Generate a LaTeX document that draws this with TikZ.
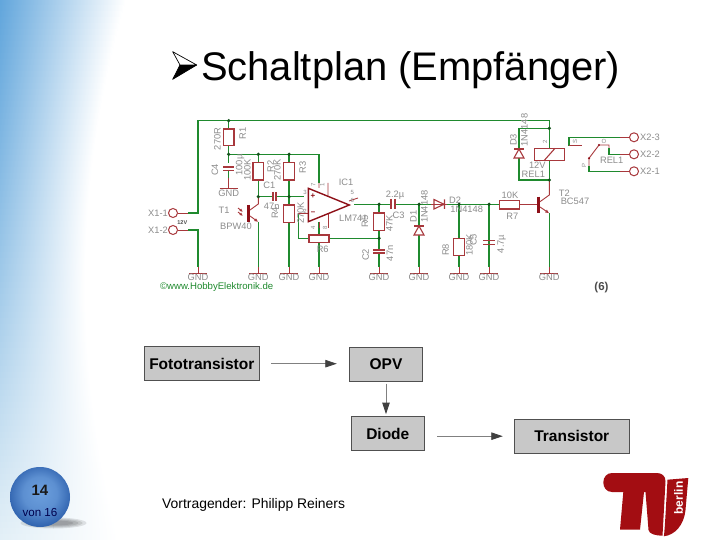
\documentclass[tikz,border=0pt]{standalone}
\usepackage{fontspec}
\setmainfont{Liberation Sans}
\usetikzlibrary{arrows.meta}
\definecolor{wiregreen}{HTML}{1F8A2E}
\definecolor{partred}{HTML}{A8383C}
\definecolor{darkred}{HTML}{8E1018}
\definecolor{lblgray}{HTML}{8C8C8C}
\definecolor{bgtop}{HTML}{62A6DC}
\definecolor{bgbot}{HTML}{E4F0F7}
\definecolor{boxgray}{HTML}{C8C8C8}
\definecolor{boxedge}{HTML}{505050}
\definecolor{tured}{HTML}{A30D12}
\definecolor{ballin}{HTML}{6C9FDD}
\definecolor{ballout}{HTML}{2F62AE}
\pgfdeclareradialshading{ballshade}{\pgfpoint{0bp}{4bp}}{color(0bp)=(ballin); color(14bp)=(ballin!75!ballout); color(27bp)=(ballout); color(50bp)=(ballout)}
\tikzset{
  wire/.style={draw=wiregreen,line width=1.5pt},
  pin/.style={draw=partred,line width=.9pt},
  part/.style={draw=partred,line width=1.1pt,fill=white},
  dot/.style={circle,fill=wiregreen!60!black,inner sep=0pt,minimum size=3.6pt},
  lbl/.style={text=lblgray,inner sep=0pt,font=\fontsize{9.3}{10}\selectfont},
  tiny/.style={text=lblgray,inner sep=0pt,font=\fontsize{6}{6}\selectfont},
  vert/.style={rotate=90},
  flowbox/.style={draw=boxedge,fill=boxgray,line width=1pt,inner sep=0pt,font=\bfseries\fontsize{15.5}{16}\selectfont},
  flow/.style={draw=gray,line width=.8pt,-{Triangle[length=11.5pt,width=7.5pt,color=black!75]}},
  term/.style={circle,draw=partred,line width=1pt,fill=white,minimum size=9pt,inner sep=0pt}
}
\newcommand{\grnd}[2]{%
  \draw[wire] (#1,#2) -- (#1,267);
  \draw[pin] (#1,267) -- (#1,273) (#1-9,273) -- (#1+9,273);
  \node[lbl] (g#1) at (#1,277.6) {GND};}
\newcommand{\vres}[3]{\draw[part] (#1-5.3,#2) rectangle (#1+5.3,#3);}
\begin{document}
\begin{tikzpicture}[x=1pt,y=-1pt]
\useasboundingbox (0,0) rectangle (720,540);
\fill[white] (0,0) rectangle (720,540);
% background band
\foreach \yy in {0,6,...,534}{
  \pgfmathsetmacro{\ww}{85+40*((\yy-280)/280)^2}
  \pgfmathsetmacro{\pp}{100-100*(\yy/540)^1.1}
  \shade[left color=bgtop!\pp!bgbot,right color=white,draw=none]
    (0,\yy) rectangle (\ww,\yy+7);
}
% title
\fill[black] (196.7,65) -- (172.7,79.3) -- (180,65) -- cycle;
\draw[black,line width=.7pt,fill=white,line join=round] (196.7,65) -- (172.7,51.7) -- (180,65) -- cycle;
\draw[black,line width=.7pt,line join=round] (196.7,65) -- (172.7,79.3) -- (180,65);
\node[anchor=base west,inner sep=0pt,font=\fontsize{39.9}{41}\selectfont] (title) at (201,81) {Schaltplan (Empfänger)};
% main wires
\draw[wire] (188,213) -- (198,213) -- (198,120.7) -- (549.3,120.7) -- (549.3,180);
\draw[wire] (188,230) -- (198,230) -- (198,267);
\draw[wire] (228.7,120.7) -- (228.7,129) (228.7,145.7) -- (228.7,154.3) -- (319,154.3) -- (319,183);
\draw[wire] (228.7,154.3) -- (228.7,163);
\draw[wire] (258.3,154.3) -- (258.3,162) (289,154.3) -- (289,162);
\draw[wire] (258.3,180) -- (258.3,196.7) -- (273,196.7) (275,196.7) -- (304,196.7);
\draw[wire] (289,180) -- (289,205);
\draw[wire] (298.3,213.3) -- (298.3,238.3) -- (309,238.3) (329,238.3) -- (379,238.3);
\draw[wire] (354,204.3) -- (391,204.3) (395,204.3) -- (433,204.3);
\draw[wire] (379,204.3) -- (379,213) (379,230.7) -- (379,250);
\draw[wire] (445,204.3) -- (499.3,204.3);
\draw[wire] (459,204.3) -- (459,238);
\draw[wire] (519,128.3) -- (549.3,128.3) (519,128.3) -- (519,180) -- (549.3,180);
\draw[wire] (620,137.3) -- (569,137.3) -- (569,145.7);
\draw[wire] (620,171.3) -- (589,171.3) -- (589,166);
\draw[wire] (620,154.3) -- (609,154.3) -- (609,148);
% grounds
\grnd{198}{230}
\grnd{258.3}{222}
\grnd{289}{222}
\grnd{319}{222}
\grnd{379}{253}
\grnd{419}{204.3}
\grnd{459}{255.7}
\grnd{489}{204.3}
\grnd{549.3}{213.3}
\draw[wire] (228.7,170) -- (228.7,178);
\draw[pin] (228.7,178) -- (228.7,188) (219.7,188) -- (237.7,188);
\node[lbl] (gc4) at (228.7,193.5) {GND};
% parts
\vres{228.7}{129}{145.7}
\vres{258.3}{162.3}{180}
\vres{289}{162.3}{180}
\vres{289}{205}{222.3}
\vres{379}{213}{230.7}
\vres{459}{238.3}{255.7}
\draw[part] (309,235) rectangle (329,242.7);
\draw[part] (499.3,200.7) rectangle (519.3,209);
\draw[pin] (519.3,204.3) -- (538,204.3);
% capacitors
\draw[part,fill=none] (223,167) -- (234,167) (223,170.5) -- (234,170.5);
\draw[part,fill=none] (273,192) -- (273,201) (276,192) -- (276,201);
\draw[part,fill=none] (373,250) -- (385,250) (373,253) -- (385,253);
\draw[part,fill=none] (483,240.5) -- (495,240.5) (483,244.5) -- (495,244.5);
\draw[part,fill=none] (391,199) -- (391,209) (395,199) -- (395,209);
% opamp
\draw[pin] (319,183) -- (319,188) (328,183) -- (328,196) (349,201) -- (358,198);
\draw[pin] (319,222) -- (319,228) (328,212) -- (328,228);
\draw[pin] (298.3,213.3) -- (308,213.3);
\draw[draw=darkred,line width=1.4pt,fill=white] (308.3,188.3) -- (308.3,221.7) -- (349.3,205) -- cycle;
\node[inner sep=0pt,text=darkred,font=\bfseries\fontsize{8}{8}\selectfont] (plus) at (313,196.5) {+};
\node[inner sep=0pt,text=darkred,font=\bfseries\fontsize{8}{8}\selectfont] (minus) at (313,213.5) {–};
% phototransistor
\draw[darkred,line width=2.4pt] (248.3,205) -- (248.3,221.7);
\draw[pin] (250,210) -- (258.3,204) -- (258.3,196.7);
\draw[pin,-{Latex[length=4pt,width=3.5pt]}] (250,216) -- (258.3,222);
\draw[pin,{Latex[length=3.5pt,width=3pt]}-] (243,212) -- (238,208);
\draw[pin,{Latex[length=3.5pt,width=3pt]}-] (243,216) -- (238,212);
% diodes
\draw[pin] (431,204.3) -- (447,204.3);
\draw[part,fill=none] (434,199.5) -- (434,209) -- (444,204.3) -- cycle (444.5,199.5) -- (444.5,209);
\draw[part] (414,235) -- (424,235) -- (419,226) -- cycle;
\draw[part,fill=none] (414,226) -- (424,226);
\draw[part] (514,158) -- (524,158) -- (519,149) -- cycle;
\draw[part,fill=none] (514,149) -- (524,149);
% T2
\draw[darkred,line width=2.4pt] (538.3,196.7) -- (538.3,213.3);
\draw[pin] (540,201.7) -- (549.3,195) -- (549.3,180);
\draw[pin,-{Latex[length=4pt,width=3.5pt]}] (540,207) -- (549.3,213.3);
% relay
\draw[part] (534.3,148.3) rectangle (564.3,160.7);
\draw[part,fill=none] (544,160.7) -- (555,148.3);
% contact
\draw[pin] (569,145.7) -- (582,145.7);
\draw[pin] (589,166) -- (589,158.3) -- (599,145) -- (609,145) -- (609,148);
\fill[darkred] (589,158.3) circle (1.2pt) (599,145) circle (1.2pt);
% terminals
\node[term] (x11) at (173,213) {};
\node[term] (x12) at (173,230) {};
\node[term] (x23) at (634,137.3) {};
\node[term] (x22) at (634,154.3) {};
\node[term] (x21) at (634,171.3) {};
\draw[pin] (x11) -- (188,213) (x12) -- (188,230) (x23) -- (620,137.3) (x22) -- (620,154.3) (x21) -- (620,171.3);
% junctions
\foreach \jx/\jy/\jn in {228.7/120.7/a,228.7/154.3/b,258.3/154.3/c,289/154.3/d,258.3/196.7/e,289/196.7/f,379/204.3/h,379/238.3/i,419/204.3/j,459/204.3/k,489/204.3/l,549.3/128.3/m,549.3/180/n}{\node[dot] (j\jn) at (\jx,\jy) {};}
% labels
\node[lbl,anchor=east] (lx11) at (168,213) {X1-1};
\node[lbl,anchor=east] (lx12) at (168,230) {X1-2};
\node[inner sep=0pt,font=\bfseries\fontsize{5.5}{6}\selectfont,text=black!70] (l12v) at (182.3,222.7) {12V};
\node[lbl,vert] (l270r) at (217.3,139) {270R};
\node[lbl,vert] (lr1) at (242.7,133.3) {R1};
\node[lbl,vert] (lc4) at (215,170) {C4};
\node[lbl,vert] (l100u) at (240,165) {100µ};
\node[lbl,vert] (l100k) at (247.3,170) {100K};
\node[lbl,vert] (lr2) at (270.7,166.7) {R2};
\node[lbl,vert] (l270k) at (277.3,170) {270K};
\node[lbl,vert] (lr3) at (302.7,167.7) {R3};
\node[lbl] (lc1) at (269.3,185) {C1};
\node[lbl] (l47n) at (271.7,206) {47n};
\node[lbl] (lt1) at (224,210) {T1};
\node[lbl] (lbpw) at (236,226.7) {BPW40};
\node[lbl,vert] (lr4) at (275,213) {R4};
\node[lbl,vert] (l270kb) at (300.7,213) {270K};
\node[lbl] (lic1) at (346,182.7) {IC1};
\node[lbl] (llm) at (353.3,218.3) {LM741};
\node[lbl,vert] (lr5) at (365,221.7) {R5};
\node[lbl,vert] (l47k) at (389.3,223.3) {47K};
\node[lbl] (lr6) at (322.7,249.3) {R6};
\node[lbl,vert] (lc2) at (365.7,255) {C2};
\node[lbl,vert] (l47nb) at (390,253.3) {47n};
\node[inner sep=0pt,text=wiregreen,font=\fontsize{9.6}{10}\selectfont] (lcopy) at (216.7,287.2) {©www.HobbyElektronik.de};
\node[lbl] (l22u) at (395,195.7) {2.2µ};
\node[lbl] (lc3) at (398.5,215.7) {C3};
\node[lbl,vert] (ld1) at (413.3,216.7) {D1};
\node[lbl,vert] (l1n1) at (424.3,206.7) {1N4148};
\node[lbl] (ld2) at (455,200.5) {D2};
\node[lbl] (l1n2) at (466.7,209.5) {1N4148};
\node[lbl] (l10k) at (510,195) {10K};
\node[lbl] (lr7) at (512.3,216.3) {R7};
\node[lbl] (lt2) at (564.3,193.3) {T2};
\node[lbl] (lbc) at (575,201.7) {BC547};
\node[lbl,vert] (lr8) at (445.7,250) {R8};
\node[lbl,vert] (l180k) at (469.3,245) {180K};
\node[lbl,vert] (lc5) at (473.5,240) {C5};
\node[lbl,vert] (l47u) at (501.7,244) {4.7µ};
\node[lbl,vert] (ld3) at (513.3,140) {D3};
\node[lbl,vert] (l1n3) at (524.3,130) {1N4148};
\node[tiny,vert] (lp2) at (545,142.3) {2};
\node[lbl] (l12vb) at (537.3,165.5) {12V};
\node[lbl] (lrel) at (533.3,174.5) {REL1};
\node[tiny,vert] (ls) at (575,141.7) {S};
\node[tiny] (lo) at (604,141.7) {O};
\node[tiny,vert] (lpp) at (584,165.7) {P};
\node[lbl] (lrelb) at (611.7,160) {REL1};
\node[lbl,anchor=west] (lx23) at (640,137.3) {X2-3};
\node[lbl,anchor=west] (lx22) at (640,154.3) {X2-2};
\node[lbl,anchor=west] (lx21) at (640,171.3) {X2-1};
\node[tiny,vert] (p7) at (313.3,185) {7};
\node[tiny,vert] (p1) at (322.3,185) {1};
\node[tiny] (p3) at (305,192) {3};
\node[tiny] (p5) at (352.3,192.3) {5};
\node[tiny] (p6) at (352.3,200.7) {6};
\node[tiny] (p2) at (305,211) {2};
\node[tiny,vert] (p4) at (313,228) {4};
\node[tiny,vert] (p8) at (325,228) {8};
\node[inner sep=0pt,text=black!70,font=\bfseries\fontsize{11.5}{12}\selectfont] (ref6) at (601.5,287.5) {(6)};
% block diagram
\node[flowbox,minimum width=115pt,minimum height=34pt] (foto) at (201.8,363.7) {Fototransistor};
\node[flowbox,minimum width=73.4pt,minimum height=34.4pt] (opv) at (386,364.5) {OPV};
\node[flowbox,minimum width=73pt,minimum height=34.3pt] (diode) at (387.8,433.8) {Diode};
\node[flowbox,minimum width=115pt,minimum height=34.3pt] (trans) at (571.8,436.2) {Transistor};
\draw[flow,shorten <=11.5pt,shorten >=12pt] (foto.east) -- (foto.east -| opv.west);
\draw[flow,shorten <=1.5pt,shorten >=2pt] (opv.south) -- (opv.south |- diode.north);
\draw[flow,shorten <=12.5pt,shorten >=11pt] (diode.east |- trans.west) -- (trans.west);
% page ball
\foreach \sr/\sh in {33/5.5,29/4.5,25/3.5,20/2.5}{\fill[black,opacity=.1] (53.5,523) ellipse (\sr pt and \sh pt);}
\shade[shading=ballshade] (40,497) circle (30pt);
\node[inner sep=0pt,font=\bfseries\fontsize{15}{15}\selectfont,text=black!90] (pg) at (40,490.5) {14};
\node[inner sep=0pt,font=\fontsize{11.6}{12}\selectfont,text=blue!30!black] (pgof) at (40,513) {von 16};
% footer
\node[anchor=base west,inner sep=0pt,font=\fontsize{13.9}{15}\selectfont] (foot) at (162,508) {Vortragender: Philipp Reiners};
% TU logo
\fill[tured] (612,473) -- (656.7,473) .. controls (662,473) and (665.5,476) .. (665.5,481.3) -- (662.5,535.7) .. controls (656,535.7) and (649,534) .. (648.5,530) -- (645.5,492) -- (612,492) .. controls (606.5,492) and (603.3,487.5) .. (603.3,482.5) .. controls (603.3,477) and (607,473) .. (612,473) -- cycle;
\fill[tured] (623.3,492) -- (644,492) -- (640,529.7) -- (620,529.7) -- cycle;
\fill[tured] (667.5,479.7) -- (688.3,478) -- (685.5,510) .. controls (684,525) and (675,535) .. (663.8,536.3) .. controls (664.5,532) and (665,525) .. (667.5,479.7) -- cycle;
\node[rotate=90,text=white,inner sep=0pt,font=\bfseries\fontsize{12}{12}\selectfont] (berlin) at (678.5,498) {berlin};
\end{tikzpicture}
\end{document}
